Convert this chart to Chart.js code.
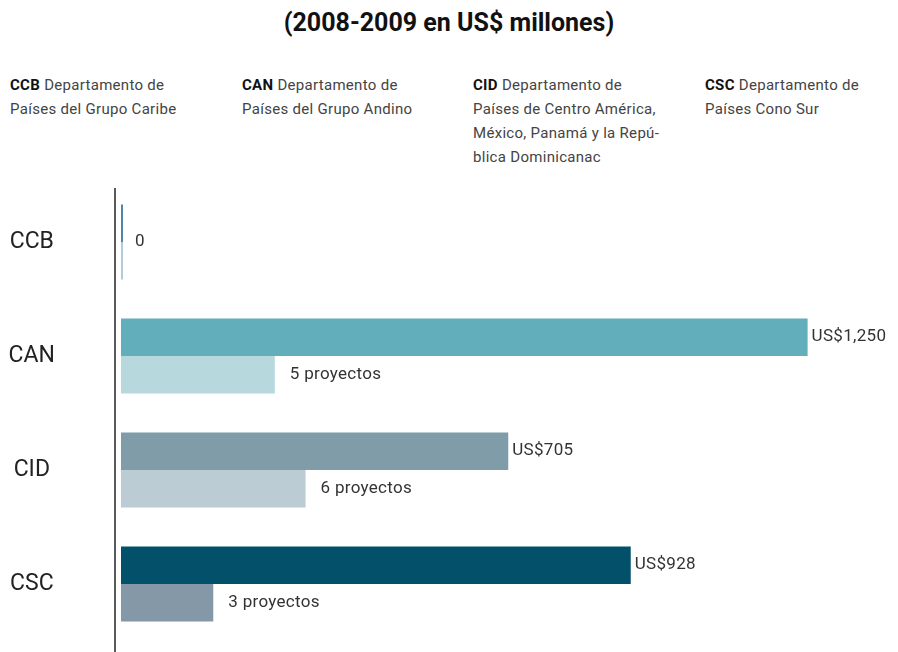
<!DOCTYPE html>
<html lang="es">
<head>
<meta charset="utf-8">
<script src="https://cdn.jsdelivr.net/npm/chart.js@4"></script>
<style>
  html, body { margin: 0; padding: 0; background: #fff; }
  body { width: 898px; height: 652px; position: relative; overflow: hidden; font-family: Roboto, "Noto Sans", sans-serif; }
  #titulo { position: absolute; top: 8px; left: 0; width: 898px; text-align: center; font-weight: bold; font-size: 25px; color: #111; }
  .dep { position: absolute; top: 73px; font-size: 15px; letter-spacing: 0.3px; line-height: 24px; color: #444; }
  .dep b { color: #111; }
  #grafico { position: absolute; left: 0; top: 0; }
</style>
</head>
<body>
<div id="titulo">(2008-2009 en US$ millones)</div>
<div class="dep" style="left:10px"><b>CCB</b> Departamento de<br>Países del Grupo Caribe</div>
<div class="dep" style="left:242px"><b>CAN</b> Departamento de<br>Países del Grupo Andino</div>
<div class="dep" style="left:473px"><b>CID</b> Departamento de<br>Países de Centro América,<br>México, Panamá y la Repú-<br>blica Dominicanac</div>
<div class="dep" style="left:705px"><b>CSC</b> Departamento de<br>Países Cono Sur</div>
<canvas id="grafico" width="898" height="652"></canvas>
<script>
// Departamentos y cifras 2008-2009
const departamentos = ['CCB', 'CAN', 'CID', 'CSC'];
const montos = [0, 1250, 705, 928];       // US$ millones
const proyectos = [0, 5, 6, 3];           // número de proyectos

// Colores por departamento (barra de monto / barra de proyectos)
const coloresMonto = ['#4f86a8', '#62aebb', '#7f9ca8', '#02506a'];
const coloresProyectos = ['#b3cadb', '#b7d8dd', '#bcccd5', '#8598a8'];

// Línea vertical del eje, un poco separada de las barras
const lineaEje = {
    id: 'lineaEje',
    afterDraw(chart) {
        const { ctx, chartArea } = chart;
        ctx.save();
        ctx.strokeStyle = '#222';
        ctx.lineWidth = 1.5;
        ctx.beginPath();
        ctx.moveTo(chartArea.left - 6, chartArea.top + 3);
        ctx.lineTo(chartArea.left - 6, chart.height);
        ctx.stroke();
        ctx.restore();
    }
};

// Etiquetas al final de cada barra
const etiquetas = {
    id: 'etiquetas',
    afterDatasetsDraw(chart) {
        const { ctx } = chart;
        ctx.save();
        ctx.font = '17px Roboto, "Noto Sans", sans-serif';
        ctx.letterSpacing = '0.3px';
        ctx.fillStyle = '#333';
        ctx.textBaseline = 'middle';
        ctx.textAlign = 'left';
        const barrasMonto = chart.getDatasetMeta(0).data;
        const barrasProy = chart.getDatasetMeta(1).data;
        departamentos.forEach((d, i) => {
            const m = barrasMonto[i], p = barrasProy[i];
            if (montos[i] === 0 && proyectos[i] === 0) {
                ctx.fillText('0', Math.max(m.x, p.x) + 12, (m.y + p.y) / 2);
                return;
            }
            ctx.fillText('US$' + montos[i].toLocaleString('en-US'), m.x + 4, m.y);
            ctx.fillText(proyectos[i] + ' proyectos', p.x + 15, p.y);
        });
        ctx.restore();
    }
};

new Chart(document.getElementById('grafico'), {
    type: 'bar',
    data: {
        labels: departamentos,
        datasets: [
            {
                label: 'US$ millones',
                data: montos,
                xAxisID: 'x',
                backgroundColor: coloresMonto,
                categoryPercentage: 0.66,
                barPercentage: 1,
                minBarLength: 2
            },
            {
                label: 'Proyectos',
                data: proyectos,
                xAxisID: 'x2',
                backgroundColor: coloresProyectos,
                categoryPercentage: 0.66,
                barPercentage: 1,
                minBarLength: 2
            }
        ]
    },
    options: {
        indexAxis: 'y',
        responsive: false,
        animation: false,
        layout: { padding: { top: 185, bottom: 11, left: 0, right: 8 } },
        plugins: {
            legend: { display: false },
            tooltip: { enabled: false }
        },
        scales: {
            x: { display: false, min: 0, max: 1400 },
            x2: { display: false, min: 0, max: 25 },
            y: {
                grid: { display: false },
                border: { display: false },
                ticks: {
                    crossAlign: 'center',
                    padding: 58,
                    color: '#222',
                    font: { family: 'Roboto, "Noto Sans", sans-serif', size: 23 }
                },
                afterFit(scale) {
                    // ancho fijo del eje y sin relleno vertical extra por las etiquetas
                    scale.width = 121;
                    scale.paddingTop = 0;
                    scale.paddingBottom = 0;
                }
            }
        }
    },
    plugins: [lineaEje, etiquetas]
});
</script>
</body>
</html>
